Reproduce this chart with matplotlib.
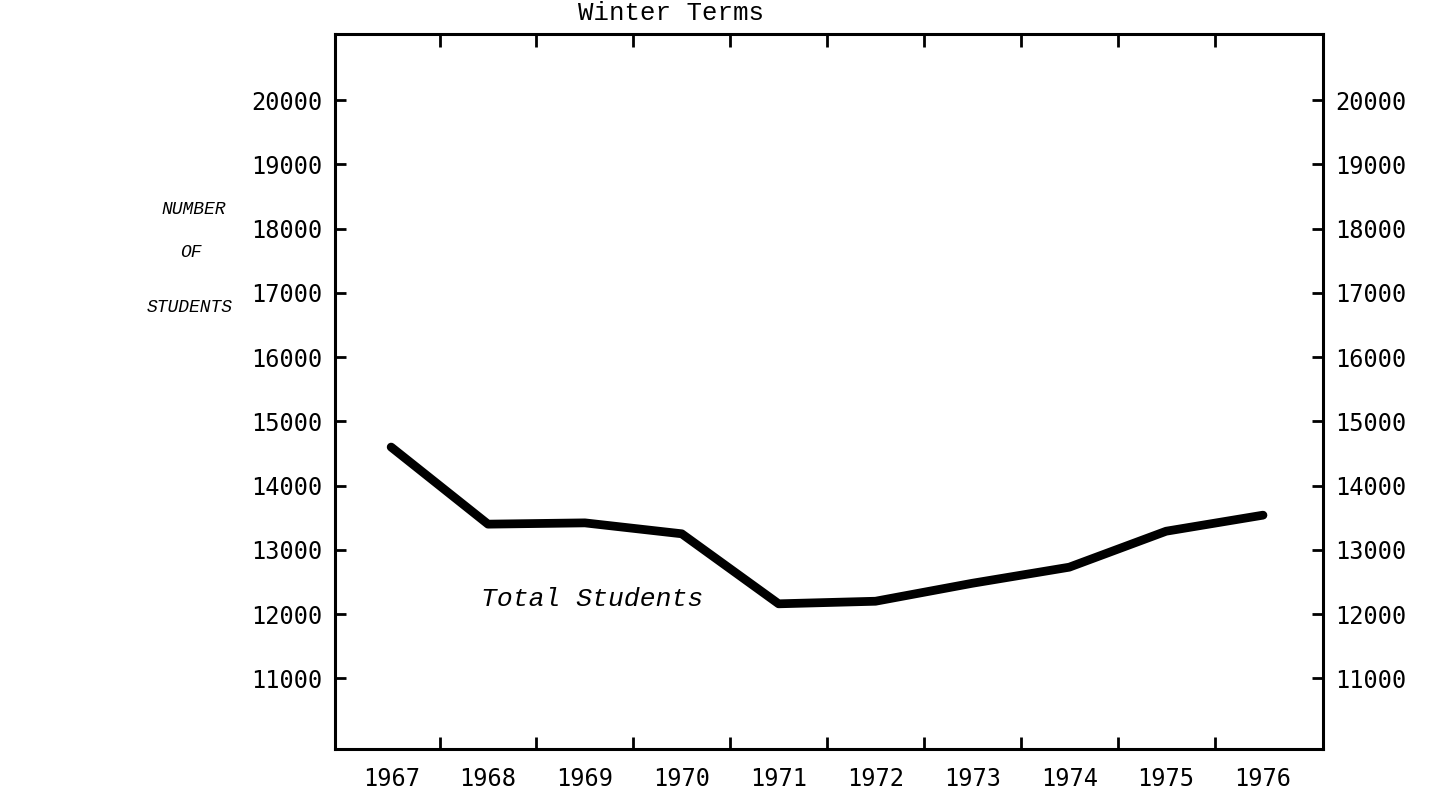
import matplotlib
matplotlib.use("agg")
import matplotlib.pyplot as plt

years = [1967, 1968, 1969, 1970, 1971, 1972, 1973, 1974, 1975, 1976]
students = [14600, 13400, 13420, 13250, 12160, 12200, 12480, 12730, 13290, 13540]
y_ticks = [11000, 12000, 13000, 14000, 15000, 16000, 17000, 18000, 19000, 20000]
x_minor = [1967.5, 1968.5, 1969.5, 1970.5, 1971.5, 1972.5, 1973.5, 1974.5, 1975.5]

tick_font = "DejaVu Sans Mono"
type_font = "Liberation Mono"

fig = plt.figure(figsize=(14.37, 7.93), dpi=100)
ax = fig.add_axes([0.2331, 0.0555, 0.6876, 0.9016])

ax.plot(years, students, color="black", linewidth=6.3, solid_capstyle="round",
        solid_joinstyle="round")

ax.set_xlim(1966.42, 1976.62)
ax.set_ylim(9900, 21030)

for s in ax.spines.values():
    s.set_linewidth(2.2)

# year labels without ticks, ticks between the years
ax.set_xticks(years)
ax.set_xticklabels([str(y) for y in years], fontfamily=tick_font, fontsize=17)
ax.tick_params(axis="x", which="major", length=0, pad=13)
ax.set_xticks(x_minor, minor=True)
ax.tick_params(axis="x", which="minor", direction="in", length=9, width=2,
               top=True, bottom=True)

ax.set_yticks(y_ticks)
ax.set_yticklabels([str(v) for v in y_ticks], fontfamily=tick_font, fontsize=17)
ax.tick_params(axis="y", direction="in", length=8, width=2, pad=9,
               left=True, right=True, labelleft=True, labelright=True)

ax.text(1967.93, 12230, "Total Students", fontfamily=type_font, style="italic",
        fontsize=19, ha="left", va="center")

fig.text(671 / 1437, 1 - 13 / 793, "Winter Terms", fontfamily=type_font,
         fontsize=18.5, ha="center", va="center")

fig.text(162 / 1437, 1 - 209 / 793, "NUMBER", fontfamily=type_font,
         style="italic", fontsize=13, ha="left", va="center")
fig.text(180 / 1437, 1 - 252 / 793, "OF", fontfamily=type_font,
         style="italic", fontsize=13, ha="left", va="center")
fig.text(147 / 1437, 1 - 307 / 793, "STUDENTS", fontfamily=type_font,
         style="italic", fontsize=13, ha="left", va="center")

plt.savefig("out.png", dpi=100)
